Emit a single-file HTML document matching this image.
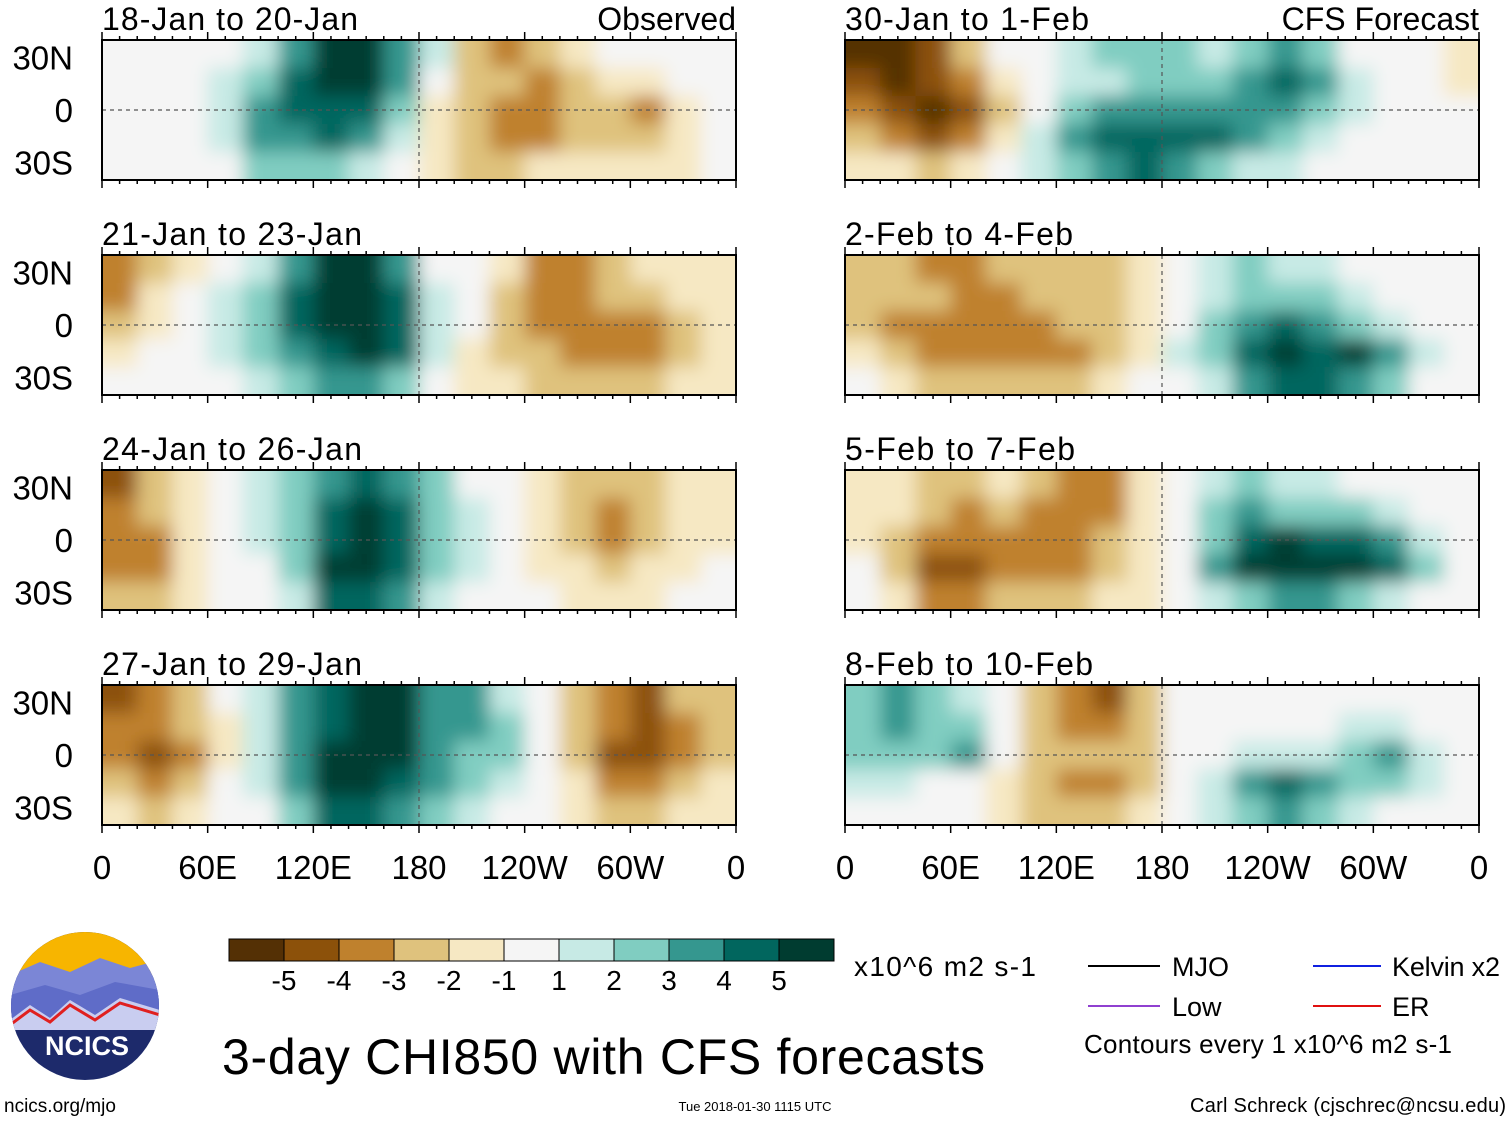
<!DOCTYPE html>
<html><head><meta charset="utf-8"><style>
body{margin:0;background:#fff;width:1510px;height:1121px;overflow:hidden;font-family:"Liberation Sans",sans-serif}
</style></head><body>
<svg id="fig" width="1510" height="1121" viewBox="0 0 1510 1121" xmlns="http://www.w3.org/2000/svg" font-family="Liberation Sans, sans-serif">
<defs>
<filter id="sm" x="-5%" y="-10%" width="110%" height="120%"><feGaussianBlur stdDeviation="9"/></filter>
</defs>
<g id="panels"></g>
<g id="bottom">
 <g>
  <clipPath id="lc"><circle cx="85" cy="1006" r="74"/></clipPath>
  <g clip-path="url(#lc)">
   <rect x="10" y="930" width="150" height="160" fill="#1d2a6b"/>
   <rect x="10" y="930" width="150" height="45" fill="#f7b500"/>
   <path d="M10 975 L40 962 L70 972 L100 958 L130 968 L160 960 L160 1000 L10 1000Z" fill="#7b86d6"/>
   <path d="M10 995 L45 985 L80 995 L115 982 L160 990 L160 1020 L10 1020Z" fill="#5f6cc8"/>
   <path d="M10 1020 L30 1005 L50 1018 L70 1000 L95 1015 L120 998 L160 1010 L160 1030 L10 1030Z" fill="#c9cdf0"/>
   <path d="M10 1025 L30 1010 L50 1022 L70 1005 L95 1020 L120 1003 L160 1015" fill="none" stroke="#e02020" stroke-width="3"/>
  </g>
  <text x="87" y="1055" font-size="27" font-weight="bold" fill="#fff" text-anchor="middle">NCICS</text>
 </g>
 <text x="4" y="1112" font-size="19">ncics.org/mjo</text>
 <text x="755" y="1111" font-size="13" text-anchor="middle">Tue 2018-01-30 1115 UTC</text>
 <text x="1506" y="1112" font-size="20" text-anchor="end" textLength="316">Carl Schreck (cjschrec@ncsu.edu)</text>
 <text x="222" y="1074" font-size="50" textLength="763">3-day CHI850 with CFS forecasts</text>
 <g id="cbar"></g>
 <text x="854" y="976" font-size="28" textLength="182">x10^6 m2 s-1</text>
 <g>
  <line x1="1088" y1="966" x2="1160" y2="966" stroke="#000" stroke-width="2"/>
  <text x="1172" y="976" font-size="27">MJO</text>
  <line x1="1088" y1="1006" x2="1160" y2="1006" stroke="#9040d0" stroke-width="2"/>
  <text x="1172" y="1016" font-size="27">Low</text>
  <line x1="1313" y1="966" x2="1381" y2="966" stroke="#1020e0" stroke-width="2"/>
  <text x="1392" y="976" font-size="27" textLength="108">Kelvin x2</text>
  <line x1="1313" y1="1006" x2="1381" y2="1006" stroke="#e01010" stroke-width="2"/>
  <text x="1392" y="1016" font-size="27">ER</text>
  <text x="1084" y="1053" font-size="26" textLength="368">Contours every 1 x10^6 m2 s-1</text>
 </g>
</g>
<script>
const colors=["#543005","#8c510a","#bf812d","#dfc27d","#f6e8c3","#f5f5f5","#c7eae5","#80cdc1","#35978f","#01665e","#003c30"];
const cbarLabels=["-5","-4","-3","-2","-1","1","2","3","4","5"];
const xTickLabels=["0","60E","120E","180","120W","60W","0"];
const yTickLabels=["30N","0","30S"];
const titles=["18-Jan to 20-Jan","21-Jan to 23-Jan","24-Jan to 26-Jan","27-Jan to 29-Jan","30-Jan to 1-Feb","2-Feb to 4-Feb","5-Feb to 7-Feb","8-Feb to 10-Feb"];
const obs1=[[0,0,0,0,1,3,5,5,3,1,-2,-3,-2,-1,0,0,0,0],[0,0,0,1,2,4,5,5,3,0,-2,-2,-3,-2,-1,-1,0,0],[0,0,0,1,3,4,4,4,2,-1,-2,-3,-3,-2,-2,-3,-1,0],[0,0,0,1,3,3,4,3,1,-1,-2,-3,-3,-2,-2,-2,-1,0],[0,0,0,0,2,2,2,1,0,-1,-2,-2,-1,-1,-1,-1,-1,0]];
const obs2=[[-3,-2,-1,0,1,3,5,5,3,0,0,-1,-3,-3,-2,-1,-1,-1],[-3,-1,0,1,2,4,5,5,4,1,0,-2,-3,-3,-2,-2,-1,-1],[-2,-1,0,1,2,4,5,5,4,1,0,-2,-3,-3,-3,-3,-2,-1],[-1,0,0,1,2,3,4,5,4,1,-1,-2,-2,-3,-3,-3,-2,-1],[0,0,0,0,1,2,3,3,2,0,-1,-1,-2,-2,-2,-2,-1,-1]];
const obs3=[[-4,-2,-1,0,1,2,3,4,3,2,0,0,-1,-2,-2,-2,-1,-1],[-3,-2,-1,0,1,2,4,5,4,2,1,0,-1,-2,-3,-2,-1,-1],[-3,-3,-1,0,1,2,4,5,4,2,1,0,-1,-2,-3,-2,-1,-1],[-3,-3,-1,0,0,2,5,5,4,2,1,0,-1,-1,-2,-1,-1,0],[-2,-2,-1,0,0,1,4,4,3,1,0,0,0,-1,-1,-1,0,0]];
const obs4=[[-4,-3,-2,0,1,3,4,5,5,3,3,1,0,-2,-3,-4,-2,-2],[-3,-3,-2,-1,1,3,4,5,5,3,3,2,0,-2,-3,-4,-3,-2],[-3,-4,-3,-1,1,3,5,5,5,3,2,2,0,-2,-4,-4,-3,-2],[-2,-3,-2,0,1,3,5,5,4,3,2,1,0,-1,-3,-3,-2,-1],[-1,-2,-1,0,0,2,4,4,3,2,1,0,0,-1,-2,-2,-1,-1]];
const fc1=[[-5,-5,-4,-2,0,0,1,2,2,2,1,2,3,2,0,0,0,-1],[-4,-5,-4,-3,-1,0,1,1,2,2,2,3,4,3,1,0,0,-1],[-3,-4,-5,-4,-2,0,2,3,3,3,3,3,3,2,1,0,0,0],[-2,-3,-4,-3,-1,1,3,4,4,4,4,3,2,1,0,0,0,0],[-1,-1,-2,-1,0,1,2,3,4,3,2,1,1,0,0,0,0,0]];
const fc2=[[-2,-2,-3,-3,-2,-2,-2,-2,-1,0,1,2,1,1,0,0,0,0],[-2,-2,-2,-3,-3,-2,-2,-2,-1,0,1,2,2,2,1,0,0,0],[-2,-3,-3,-3,-3,-3,-2,-2,-1,0,2,3,4,3,2,1,0,0],[-1,-2,-3,-3,-3,-3,-3,-2,-1,1,2,4,5,4,5,3,1,0],[0,-1,-2,-2,-2,-2,-2,-1,0,0,1,3,4,4,3,2,0,0]];
const fc3=[[-1,-1,-2,-2,-1,-2,-3,-3,-1,0,1,2,1,1,0,0,0,0],[-1,-1,-2,-3,-2,-3,-3,-3,-1,0,2,3,2,2,2,1,0,0],[-1,-2,-3,-3,-3,-3,-3,-2,-1,0,2,4,5,4,4,3,1,0],[0,-2,-4,-4,-3,-3,-3,-2,-1,0,3,5,5,5,5,4,2,0],[0,-1,-3,-3,-2,-2,-2,-1,-1,0,1,2,3,3,2,1,0,0]];
const fc4=[[2,3,2,1,0,-2,-3,-4,-2,0,0,0,0,0,0,0,0,0],[2,3,2,2,0,-2,-3,-3,-2,0,0,0,0,0,1,1,0,0],[2,2,2,3,0,-2,-2,-2,-2,0,0,1,1,1,2,3,1,0],[1,1,0,0,-1,-2,-3,-3,-2,0,1,3,4,3,2,2,1,0],[0,0,0,0,-1,-2,-2,-2,-1,0,1,2,3,2,1,0,0,0]];
const fields=[obs1,obs2,obs3,obs4,fc1,fc2,fc3,fc4];

const NS="http://www.w3.org/2000/svg";
function mk(t,a,p){const e=document.createElementNS(NS,t);for(const k in a)e.setAttribute(k,a[k]);p.appendChild(e);return e;}
const PW=634,PH=140,lefts=[102,845],tops=[40,255,470,685];
function xs(lon,x0){return x0+lon/360*PW;}
function ys(lat,y0){return y0+PH/2-lat/40*(PH/2);}
function col(v){return colors[Math.max(0,Math.min(10,Math.round(v)+5))];}
const root=document.getElementById('panels');
fields.forEach((f,i)=>{
  const x0=lefts[Math.floor(i/4)],y0=tops[i%4];
  const g=mk('g',{},root);
  
  
  const cp=mk('clipPath',{id:'cp'+i},g);
  mk('rect',{x:x0,y:y0,width:PW,height:PH},cp);
  const cg=mk('g',{'clip-path':'url(#cp'+i+')'},g);
  const fg=mk('g',{filter:'url(#sm)'},cg);
  const nr=f.length,nc=f[0].length,dl=360/nc,dlat=80/nr;
  f.forEach((row,r)=>row.forEach((v,c)=>{
    let xa=xs(c*dl,x0),xb=xs((c+1)*dl,x0);
    let ya=ys(40-r*dlat,y0),yb=ys(40-(r+1)*dlat,y0);
    if(c==0)xa-=30; if(c==nc-1)xb+=30; if(r==0)ya-=30; if(r==nr-1)yb+=30;
    const cell=mk('rect',{x:xa,y:ya,width:xb-xa+0.5,height:yb-ya+0.5,fill:col(v)},fg);
    
    
  }));
  mk('line',{x1:x0,y1:ys(0,y0),x2:x0+PW,y2:ys(0,y0),stroke:'#555','stroke-dasharray':'4,4','stroke-width':1.2},g);
  mk('line',{x1:xs(180,x0),y1:y0,x2:xs(180,x0),y2:y0+PH,stroke:'#555','stroke-dasharray':'4,4','stroke-width':1.2},g);
  mk('rect',{x:x0,y:y0,width:PW,height:PH,fill:'none',stroke:'#000','stroke-width':2},g);
  for(let l=0;l<=360;l+=10){const L=(l%60==0)?8:4;
    mk('line',{x1:xs(l,x0),y1:y0,x2:xs(l,x0),y2:y0-L,stroke:'#000','stroke-width':1.5},g);
    mk('line',{x1:xs(l,x0),y1:y0+PH,x2:xs(l,x0),y2:y0+PH+L,stroke:'#000','stroke-width':1.5},g);}
  const t=mk('text',{x:x0,y:y0-10,'font-size':32,textLength:(i==4?244:(i%4==0?256:(i==5?228:(i==6?230:(i==7?248:260)))))},g);t.textContent=titles[i];
  
  
  if(i==0||i==4){const s=mk('text',{x:x0+PW,y:y0-10,'font-size':32,'text-anchor':'end'},g);s.textContent=i==0?'Observed':'CFS Forecast';
    
    }
  if(i<4){[30,0,-30].forEach((la,k)=>{const yt=mk('text',{x:73,y:ys(la,y0)+12,'font-size':33,'text-anchor':'end'},g);yt.textContent=yTickLabels[k];
    
    });}
  if(i%4==3){xTickLabels.forEach((lb,k)=>{const xt=mk('text',{x:xs(k*60,x0),y:879,'font-size':33,'text-anchor':'middle'},g);xt.textContent=lb;
    
    });}
});
const cb=document.getElementById('cbar');
colors.forEach((c,k)=>{const r=mk('rect',{x:229+k*55,y:939,width:55,height:22,fill:c,stroke:'#000','stroke-width':1},cb);
  
  });
cbarLabels.forEach((lb,k)=>{const t=mk('text',{x:229+(k+1)*55,y:990,'font-size':28,'text-anchor':'middle'},cb);t.textContent=lb;
  
  });
</script>
</svg>
</body></html>
